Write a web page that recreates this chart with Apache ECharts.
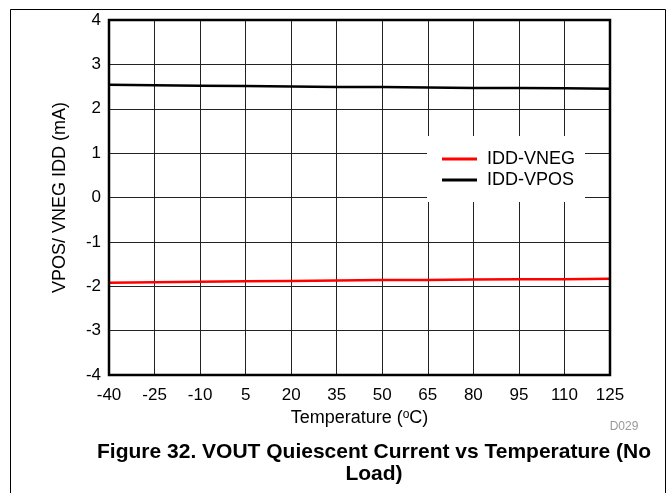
<!DOCTYPE html>
<html>
<head>
<meta charset="utf-8">
<script src="https://cdn.jsdelivr.net/npm/echarts@6/dist/echarts.min.js"></script>
<style>
html,body{margin:0;padding:0;background:#fff;}
#main{width:671px;height:493px;}
</style>
</head>
<body>
<div id="main"></div>
<script>
const temperatures = ['-40','-25','-10','5','20','35','50','65','80','95','110','125'];
const iddVneg = [-1.92,-1.91,-1.90,-1.89,-1.88,-1.87,-1.86,-1.86,-1.85,-1.84,-1.84,-1.83];
const iddVpos = [2.54,2.53,2.52,2.51,2.50,2.49,2.49,2.48,2.47,2.47,2.46,2.45];
const yTicks = {min:-4, max:4, interval:1};

const font = '"Liberation Sans", Arial, sans-serif';
const chart = echarts.init(document.getElementById('main'), null, {renderer:'canvas'});
chart.setOption({
  animation:false,
  backgroundColor:'#fff',
  textStyle:{fontFamily:font},
  grid:{left:109, right:61, top:20, bottom:118, show:true, borderColor:'#000', borderWidth:2.5, backgroundColor:'transparent', z:10},
  xAxis:{
    type:'category', data:temperatures, boundaryGap:false,
    axisLine:{show:false}, axisTick:{show:false},
    axisLabel:{color:'#000', fontSize:17, margin:12, fontFamily:font, interval:0},
    splitLine:{show:true, interval:0, lineStyle:{color:'#222', width:1}},
    name:'Temperature ({s|o}C)', nameLocation:'middle', nameGap:33,
    nameTextStyle:{color:'#000', fontSize:18, fontFamily:font,
      rich:{s:{fontSize:12, verticalAlign:'top', padding:[0,0,7,0], color:'#000', fontFamily:font}}}
  },
  yAxis:{
    type:'value', min:yTicks.min, max:yTicks.max, interval:yTicks.interval,
    axisLine:{show:false}, axisTick:{show:false},
    axisLabel:{color:'#000', fontSize:17, margin:8, fontFamily:font},
    splitLine:{show:true, lineStyle:{color:'#222', width:1}},
    name:'VPOS/ VNEG IDD (mA)', nameLocation:'middle', nameGap:40,
    nameTextStyle:{color:'#000', fontSize:18, fontFamily:font}
  },
  legend:{
    orient:'vertical', left:427, top:136,
    backgroundColor:'#fff', padding:[14,10,13,15], itemGap:3,
    itemWidth:35, itemHeight:3, icon:'rect', z:20,
    textStyle:{color:'#000', fontSize:18, fontFamily:font, padding:[0,0,0,5]},
    data:['IDD-VNEG','IDD-VPOS']
  },
  series:[
    {name:'IDD-VNEG', type:'line', data:iddVneg, symbol:'none', showSymbol:false,
     lineStyle:{color:'#ff0000', width:2.5}, itemStyle:{color:'#ff0000'}, z:5},
    {name:'IDD-VPOS', type:'line', data:iddVpos, symbol:'none', showSymbol:false,
     lineStyle:{color:'#000', width:2.5}, itemStyle:{color:'#000'}, z:5}
  ],
  graphic:[
    {type:'rect', left:8, top:7, shape:{width:655, height:500}, style:{fill:'none', stroke:'#000', lineWidth:1}, silent:true, z:-1},
    {type:'text', x:624, y:427, style:{text:'D029', fill:'#999', font:'12px '+font, textAlign:'center', textVerticalAlign:'middle'}},
    {type:'text', x:374, y:452, style:{text:'Figure 32. VOUT Quiescent Current vs Temperature (No', fill:'#000', font:'bold 21px '+font, textAlign:'center', textVerticalAlign:'middle'}},
    {type:'text', x:374, y:474, style:{text:'Load)', fill:'#000', font:'bold 21px '+font, textAlign:'center', textVerticalAlign:'middle'}}
  ]
});
</script>
</body>
</html>
